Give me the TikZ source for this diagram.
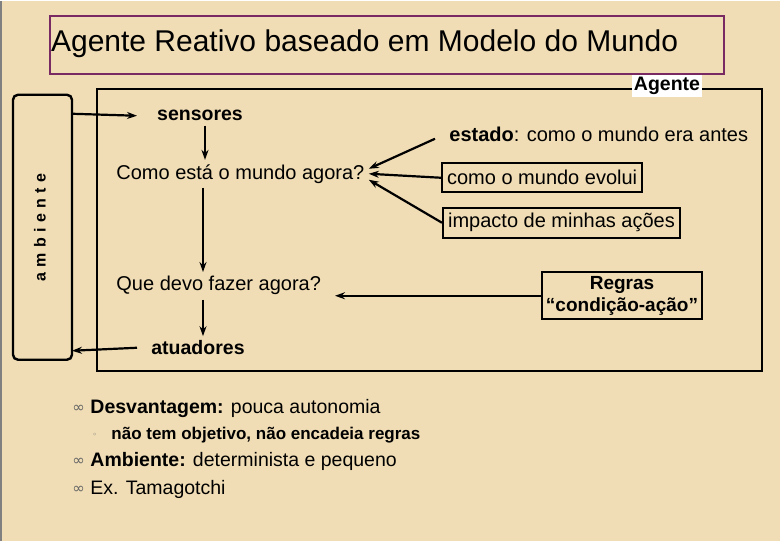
\documentclass[tikz,border=0pt]{standalone}
\usepackage{fontspec}
\setmainfont{Liberation Sans}
\newfontfamily\symfont{DejaVu Sans}
\usepackage{xcolor}
\usetikzlibrary{positioning,arrows.meta}
\definecolor{fundo}{HTML}{F0DDB5}
\definecolor{moldura}{HTML}{7A2A63}
\begin{document}
\begin{tikzpicture}[x=1pt,y=-1pt,line width=2.2pt,>={Stealth[length=10pt,width=7pt]},
            caixa/.style = {draw, line width=2.2pt, inner sep=3pt, inner xsep=5pt},
            rotulo/.style = {font=\fontsize{20}{22}\selectfont},
            negrito/.style = {font=\bfseries\fontsize{19.5}{22}\selectfont},
            item/.style = {anchor=west, font=\fontsize{19.5}{22}\selectfont},
            marca/.style = {anchor=west, text=gray!80!black, font=\symfont\fontsize{15}{16}\selectfont}]
            \fill[fundo] (0,0) rectangle (780,540);
            \draw[gray, line width=1.5pt] (0.75,0) -- (0.75,540);
            % Title
            \draw[moldura, line width=2pt] (50,15) rectangle (724,73);
            \node[anchor=west, inner sep=0pt, font=\fontsize{30}{32}\selectfont] (titulo) at (50,43) {Agente Reativo baseado em Modelo do Mundo};
            % Agent frame
            \draw[line width=2.4pt] (97,88) rectangle (762,370);
            \node[fill=white, inner sep=2pt, negrito] (agente) at (667,85) {Agente};
            % Environment
            \draw[line width=2.4pt, rounded corners=5pt] (13,94) rectangle (72,359);
            \node[rotate=90, font=\bfseries\fontsize{16}{18}\selectfont] (ambiente) at (40,227) {a\,\,m\,\,b\,\,i\,\,e\,\,n\,\,t\,\,e};
            \coordinate (amb-in) at (72,113);
            \coordinate (amb-out) at (72,350);
            % Inner nodes
            \node[negrito] (sensores) at (200,115) {sensores};
            \node[rotulo, anchor=west] (agora) at (112,173) {Como está o mundo agora?};
            \node[rotulo, anchor=west] (fazer) at (112,285) {Que devo fazer agora?};
            \node[negrito] (atuadores) at (198,347) {atuadores};
            \node[rotulo, anchor=west] (estado) at (445,134) {\textbf{estado}: como o mundo era antes};
            \node[caixa, rotulo, anchor=west, minimum height=29pt] (evolui) at (441,177) {como o mundo evolui};
            \node[caixa, rotulo, anchor=west, minimum height=30pt] (impacto) at (442,222) {impacto de minhas ações};
            \node[caixa, align=center, inner sep=4pt, font=\bfseries\fontsize{19}{22}\selectfont] (regras) at (622,295) {Regras\\“condição-ação”};
            \coordinate (estado-pe) at (435,138);
            % Connectors
            \draw[->] (amb-in) -- (sensores.west -| 137,0);
            \draw[->] (sensores.south -| 205,0) -- (agora.north -| 205,0);
            \draw[->] (agora.south -| 203,0) -- (fazer.north -| 203,0);
            \draw[->] (fazer.south -| 203,0) -- (atuadores.north -| 203,0);
            \draw[->] (atuadores.west -| 137,0) -- (amb-out);
            \draw[->] (estado-pe) -- ([yshift=5pt]agora.east);
            \draw[->] (evolui.west) -- (agora.east);
            \draw[->] (impacto.west) -- ([yshift=-6pt]agora.east);
            \draw[->] (regras.west) -- (regras.west -| 335,0);
            % Bullets
            \node[marca] (m1) at (68,408) {∞};
            \node[item] (b1) at (86,408) {\textbf{Desvantagem:} pouca autonomia};
            \node[marca, font=\symfont\fontsize{8}{9}\selectfont] (m2) at (88,435) {◦};
            \node[item, font=\bfseries\fontsize{17}{19}\selectfont] (b2) at (107,434) {não tem objetivo, não encadeia regras};
            \node[marca] (m3) at (68,461) {∞};
            \node[item] (b3) at (86,461) {\textbf{Ambiente:} determinista e pequeno};
            \node[marca] (m4) at (68,489) {∞};
            \node[item] (b4) at (86,489) {Ex. Tamagotchi};
        \end{tikzpicture}
\end{document}
